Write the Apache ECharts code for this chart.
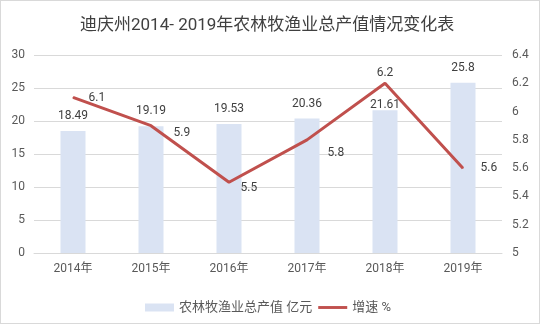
<!DOCTYPE html>
<html><head><meta charset="utf-8">
<script src="https://cdn.jsdelivr.net/npm/echarts@6/dist/echarts.min.js"></script>
<style>
html,body{margin:0;padding:0;background:#fff;}
#c{position:absolute;left:0;top:0;width:540px;height:325px;}
#b{position:absolute;left:0;top:0;width:538px;height:322px;border:1px solid #d9d9d9;pointer-events:none;}
</style></head>
<body><div id="c"></div><div id="b"></div>
<script>
const categories = ['2014年','2015年','2016年','2017年','2018年','2019年'];
const outputValues = [18.49, 19.19, 19.53, 20.36, 21.61, 25.8];
const growthRates = [6.1, 5.9, 5.5, 5.8, 6.2, 5.6];
const barName = '农林牧渔业总产值 亿元';
const lineName = '增速 %';

// label placement per point (style only)
const lineLabelPlace = [
  {position:'right', offset:[15,1]},
  {position:'right', offset:[22,7]},
  {position:'right', offset:[11,6]},
  {position:'right', offset:[20,13]},
  {position:'top', offset:[0,-4]},
  {position:'right', offset:[17,0]}
];
const barLabelPlace = [{}, {}, {}, {}, {offset:[0,10]}, {}];

const font = 'Roboto, "Noto Sans CJK SC", sans-serif';
const chart = echarts.init(document.getElementById('c'), null, {renderer:'canvas'});
chart.setOption({
  animation:false,
  textStyle:{fontFamily:font},
  title:{
    text:'迪庆州2014- 2019年农林牧渔业总产值情况变化表',
    left:75, top:12,
    textStyle:{fontSize:17, fontWeight:'normal', color:'#404040', fontFamily:font}
  },
  legend:{
    left:140, top:296, itemWidth:29, itemHeight:8, itemGap:6,
    textStyle:{fontSize:13, color:'#595959', fontFamily:font},
    data:[
      {name:barName, icon:'rect'},
      {name:lineName, icon:'path://M0,0H30V3H0Z'}
    ]
  },
  grid:{left:34, right:38, top:55, bottom:72, containLabel:false},
  xAxis:{
    type:'category', data:categories,
    axisLine:{lineStyle:{color:'#d9d9d9'}},
    axisTick:{show:false},
    axisLabel:{color:'#595959', fontSize:12, margin:10, fontFamily:font}
  },
  yAxis:[
    {type:'value', min:0, max:30, interval:5,
     axisLine:{show:false}, axisTick:{show:false},
     splitLine:{lineStyle:{color:'#d9d9d9'}},
     axisLabel:{color:'#595959', fontSize:12, margin:9, fontFamily:font}},
    {type:'value', min:5, max:6.4, interval:0.2,
     axisLine:{show:false}, axisTick:{show:false},
     splitLine:{show:false},
     axisLabel:{color:'#595959', fontSize:12, margin:10, fontFamily:font,
       formatter:v=>String(Math.round(v*10)/10)}}
  ],
  series:[
    {name:barName, type:'bar', data:outputValues.map((v,i)=>({value:v, label:barLabelPlace[i]})), barWidth:25,
     itemStyle:{color:'#dae3f3'},
     label:{show:true, position:'top', distance:9, color:'#404040', fontSize:12, fontFamily:font}},
    {name:lineName, type:'line', yAxisIndex:1,
     data:growthRates.map((v,i)=>({value:v, label:lineLabelPlace[i]})),
     symbol:'circle', symbolSize:1,
     itemStyle:{color:'#c0504d'},
     lineStyle:{color:'#c0504d', width:3},
     label:{show:true, distance:0, color:'#404040', fontSize:12, fontFamily:font}}
  ]
});
</script></body></html>
